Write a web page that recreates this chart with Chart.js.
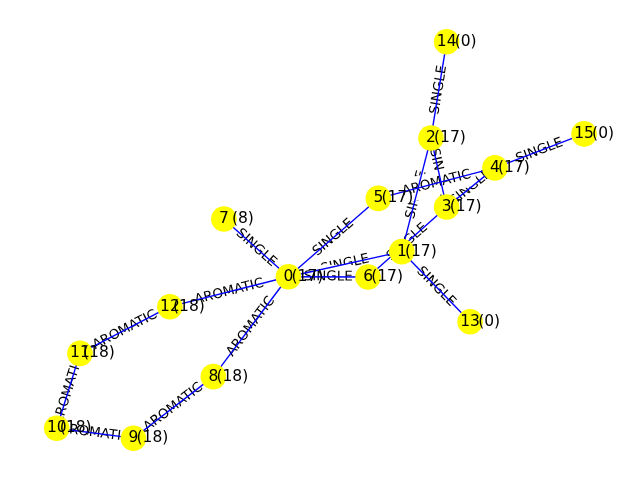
<!DOCTYPE html>
<html>
<head>
<meta charset="utf-8">
<script src="https://cdn.jsdelivr.net/npm/chart.js@4.4.0/dist/chart.umd.min.js"></script>
<style>
  body { margin: 0; background: #ffffff; }
</style>
</head>
<body>
<canvas id="graphChart" width="640" height="480"></canvas>
<script>
// node layout (spring layout units) and node tags
const nodeIds = [0, 1, 2, 3, 4, 5, 6, 7, 8, 9, 10, 11, 12, 13, 14, 15];
const nodeX = [-0.117, 0.303, 0.411, 0.469, 0.648, 0.216, 0.178, -0.356, -0.395, -0.691, -0.975, -0.889, -0.556, 0.556, 0.469, 0.978];
const nodeY = [-0.136, -0.043, 0.378, 0.122, 0.267, 0.154, -0.137, 0.078, -0.506, -0.734, -0.697, -0.420, -0.247, -0.303, 0.734, 0.393];
const nodeTags = [17, 17, 17, 17, 17, 17, 17, 8, 18, 18, 18, 18, 18, 0, 0, 0];

// edges
const edgeFrom = [0, 0, 0, 0, 0, 0, 1, 1, 2, 2, 3, 3, 4, 4, 8, 9, 10, 11];
const edgeTo = [7, 5, 1, 6, 12, 8, 2, 13, 14, 3, 4, 6, 5, 15, 9, 10, 11, 12];
const edgeTypes = ['SINGLE', 'SINGLE', 'SINGLE', 'SINGLE', 'AROMATIC', 'AROMATIC', 'SINGLE', 'SINGLE', 'SINGLE',
    'SINGLE', 'SINGLE', 'SINGLE', 'AROMATIC', 'SINGLE', 'AROMATIC', 'AROMATIC', 'AROMATIC', 'AROMATIC'];

const edgeFontSize = 13.5;
const edgeFont = edgeFontSize + 'px "DejaVu Sans"';
const nodeFont = '15.5px "DejaVu Sans"';

// edge labels go under the edges (white round box), node labels on top
const edgeLabels = {
    id: 'edgeLabels',
    beforeDatasetsDraw(chart) {
        const ctx = chart.ctx;
        const xs = chart.scales.x, ys = chart.scales.y;
        const pad = 0.3 * edgeFontSize;
        ctx.save();
        ctx.font = edgeFont;
        edgeFrom.forEach((a, i) => {
            const b = edgeTo[i];
            const x1 = xs.getPixelForValue(nodeX[a]), y1 = ys.getPixelForValue(nodeY[a]);
            const x2 = xs.getPixelForValue(nodeX[b]), y2 = ys.getPixelForValue(nodeY[b]);
            let ang = Math.atan2(y2 - y1, x2 - x1);
            if (ang > Math.PI / 2) ang -= Math.PI;
            else if (ang < -Math.PI / 2) ang += Math.PI;
            const w = ctx.measureText(edgeTypes[i]).width + 2 * pad;
            const h = edgeFontSize * 1.17 + 2 * pad;
            ctx.save();
            ctx.translate((x1 + x2) / 2, (y1 + y2) / 2);
            ctx.rotate(ang);
            ctx.fillStyle = '#ffffff';
            ctx.beginPath();
            if (ctx.roundRect) ctx.roundRect(-w / 2, -h / 2, w, h, pad);
            else ctx.rect(-w / 2, -h / 2, w, h);
            ctx.fill();
            ctx.fillStyle = '#000000';
            ctx.textAlign = 'center';
            ctx.textBaseline = 'middle';
            ctx.fillText(edgeTypes[i], 0, 0);
            ctx.restore();
        });
        ctx.restore();
    }
};

const nodeLabels = {
    id: 'nodeLabels',
    afterDatasetsDraw(chart) {
        const ctx = chart.ctx;
        const xs = chart.scales.x, ys = chart.scales.y;
        ctx.save();
        ctx.font = nodeFont;
        ctx.fillStyle = '#000000';
        ctx.textAlign = 'center';
        ctx.textBaseline = 'middle';
        nodeIds.forEach((n, i) => {
            const px = xs.getPixelForValue(nodeX[i]);
            const py = ys.getPixelForValue(nodeY[i]);
            ctx.fillText(String(n), px, py);
            ctx.fillText('(' + nodeTags[i] + ')', px + 19, py);
        });
        ctx.restore();
    }
};

const nodePoints = nodeIds.map((n, i) => ({ x: nodeX[i], y: nodeY[i] }));

const datasets = [{
    label: 'nodes',
    data: nodePoints,
    pointRadius: 12.8,
    pointHoverRadius: 12.8,
    pointBackgroundColor: '#ffff00',
    pointBorderWidth: 0,
    showLine: false
}];

edgeFrom.forEach((a, i) => {
    const b = edgeTo[i];
    datasets.push({
        label: a + '-' + b,
        data: [{ x: nodeX[a], y: nodeY[a] }, { x: nodeX[b], y: nodeY[b] }],
        showLine: true,
        borderColor: '#0000ff',
        borderWidth: 1.4,
        pointRadius: 0,
        pointHoverRadius: 0
    });
});

const ctx = document.getElementById('graphChart').getContext('2d');

const graphChart = new Chart(ctx, {
    type: 'scatter',
    data: { datasets: datasets },
    options: {
        responsive: false,
        animation: false,
        events: [],
        layout: { padding: 0, autoPadding: false },
        scales: {
            x: { type: 'linear', display: false, min: -320 / 270, max: 320 / 270 },
            y: { type: 'linear', display: false, min: -240 / 270, max: 240 / 270 }
        },
        plugins: {
            legend: { display: false },
            tooltip: { enabled: false }
        }
    },
    plugins: [edgeLabels, nodeLabels]
});
</script>
</body>
</html>
